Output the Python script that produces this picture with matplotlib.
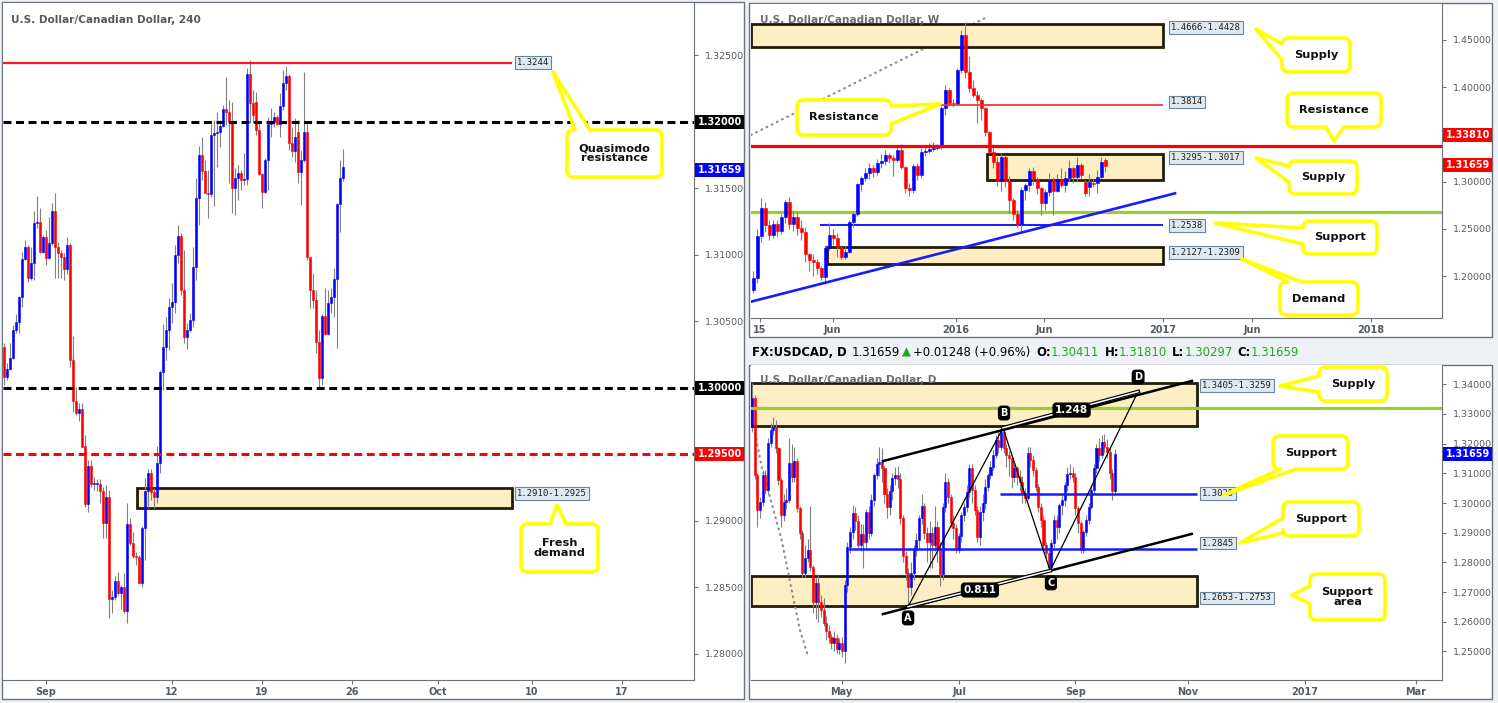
import numpy as np
import matplotlib
matplotlib.use("Agg")
import matplotlib.pyplot as plt
from matplotlib.patches import Rectangle, Polygon

# ---------------- data ----------------
# 4H candles (index 0 = first visible bar)
h4_open = [1.30311, 1.30085, 1.30140, 1.30223, 1.30436, 1.30496, 1.30682, 1.30970, 1.31060, 1.30830,
           1.30937, 1.31243, 1.31251, 1.31025, 1.31135, 1.30975, 1.31093, 1.31331, 1.31063, 1.31013,
           1.30982, 1.30897, 1.31073, 1.30211, 1.29902, 1.29810, 1.29840, 1.29564, 1.29125, 1.29414,
           1.29276, 1.29278, 1.29280, 1.29228, 1.28982, 1.29178, 1.28411, 1.28431, 1.28549, 1.28456,
           1.28506, 1.28326, 1.28977, 1.28832, 1.28737, 1.28727, 1.28536, 1.28945, 1.29226, 1.29358,
           1.29221, 1.29183, 1.29434, 1.30123, 1.30311, 1.30436, 1.30612, 1.30644, 1.31000, 1.31143,
           1.30737, 1.30386, 1.30436, 1.30511, 1.30907, 1.31429, 1.31749, 1.31632, 1.31469, 1.31461,
           1.31902, 1.31915, 1.31927, 1.31970, 1.32095, 1.32075, 1.32003, 1.31501, 1.31576, 1.31619,
           1.31564, 1.31569, 1.32361, 1.32145, 1.32153, 1.31940, 1.31609, 1.31476, 1.31714, 1.31985,
           1.32003, 1.32040, 1.31985, 1.32120, 1.32291, 1.32346, 1.31840, 1.31784, 1.31927, 1.31627,
           1.31714, 1.31927, 1.30987, 1.30737, 1.30662, 1.30348, 1.30073, 1.30541, 1.30404, 1.30637,
           1.30682, 1.30817, 1.31383, 1.31576]
h4_high = [1.30341, 1.30185, 1.30336, 1.30474, 1.30556, 1.30692, 1.31025, 1.31113, 1.31075, 1.31058,
           1.31331, 1.31444, 1.31356, 1.31150, 1.31188, 1.31288, 1.31393, 1.31469, 1.31100, 1.31038,
           1.31013, 1.31138, 1.31088, 1.30393, 1.30010, 1.29885, 1.29885, 1.29647, 1.29459, 1.29459,
           1.29333, 1.29313, 1.29313, 1.29258, 1.29271, 1.29233, 1.28481, 1.28586, 1.28619, 1.28519,
           1.28606, 1.29138, 1.29020, 1.28920, 1.28769, 1.28744, 1.28960, 1.29321, 1.29388, 1.29388,
           1.29246, 1.29564, 1.30135, 1.30481, 1.30536, 1.30674, 1.30787, 1.31075, 1.31226, 1.31168,
           1.31038, 1.30486, 1.30561, 1.31063, 1.31576, 1.31820, 1.31885, 1.31714, 1.31639, 1.31985,
           1.32015, 1.32078, 1.32015, 1.32128, 1.32341, 1.32165, 1.32153, 1.31652, 1.31677, 1.31639,
           1.31764, 1.32404, 1.32466, 1.32241, 1.32228, 1.31990, 1.31614, 1.31727, 1.32040, 1.32103,
           1.32078, 1.32053, 1.32216, 1.32391, 1.32421, 1.32361, 1.31965, 1.32028, 1.32015, 1.31789,
           1.32378, 1.32003, 1.30987, 1.30862, 1.30737, 1.30436, 1.30556, 1.30749, 1.30737, 1.30749,
           1.30900, 1.31389, 1.31714, 1.31797]
h4_low = [1.30023, 1.30060, 1.30135, 1.30216, 1.30416, 1.30416, 1.30612, 1.30962, 1.30794, 1.30812,
          1.30812, 1.31200, 1.31018, 1.31013, 1.30925, 1.30967, 1.31075, 1.30825, 1.30825, 1.30825,
          1.30812, 1.30857, 1.30160, 1.29822, 1.29800, 1.29754, 1.29554, 1.29108, 1.29065, 1.29258,
          1.29233, 1.29228, 1.29133, 1.28870, 1.28870, 1.28268, 1.28306, 1.28406, 1.28444, 1.28336,
          1.28306, 1.28231, 1.28820, 1.28719, 1.28669, 1.28531, 1.28500, 1.28707, 1.29095, 1.29158,
          1.29100, 1.29133, 1.29358, 1.29985, 1.30211, 1.30286, 1.30486, 1.30561, 1.30937, 1.30699,
          1.30336, 1.30291, 1.30420, 1.30461, 1.30812, 1.31226, 1.31564, 1.31464, 1.31276, 1.31439,
          1.31368, 1.31664, 1.31815, 1.31960, 1.31977, 1.31539, 1.31313, 1.31301, 1.31414, 1.31489,
          1.31526, 1.31526, 1.31990, 1.31990, 1.31900, 1.31602, 1.31351, 1.31464, 1.31489, 1.31890,
          1.31964, 1.31977, 1.31890, 1.32090, 1.32241, 1.31789, 1.31739, 1.31702, 1.31539, 1.31376,
          1.31702, 1.30962, 1.30599, 1.30599, 1.30266, 1.30010, 1.30023, 1.30398, 1.30398, 1.30561,
          1.30536, 1.30298, 1.31175, 1.31560]
h4_close = [1.30085, 1.30140, 1.30223, 1.30436, 1.30496, 1.30682, 1.30970, 1.31060, 1.30830, 1.30937,
            1.31243, 1.31251, 1.31025, 1.31135, 1.30975, 1.31093, 1.31331, 1.31063, 1.31013, 1.30982,
            1.30897, 1.31073, 1.30211, 1.29902, 1.29810, 1.29840, 1.29559, 1.29125, 1.29414, 1.29276,
            1.29278, 1.29280, 1.29228, 1.28982, 1.29178, 1.28411, 1.28431, 1.28549, 1.28456, 1.28506,
            1.28326, 1.28977, 1.28832, 1.28737, 1.28727, 1.28536, 1.28945, 1.29226, 1.29358, 1.29221,
            1.29183, 1.29434, 1.30123, 1.30311, 1.30436, 1.30612, 1.30644, 1.31000, 1.31143, 1.30737,
            1.30386, 1.30436, 1.30511, 1.30907, 1.31429, 1.31749, 1.31632, 1.31469, 1.31461, 1.31902,
            1.31915, 1.31927, 1.31970, 1.32095, 1.32075, 1.32003, 1.31501, 1.31576, 1.31619, 1.31564,
            1.31569, 1.32361, 1.32145, 1.32053, 1.31940, 1.31609, 1.31476, 1.31714, 1.31985, 1.32003,
            1.32040, 1.31985, 1.32120, 1.32291, 1.32346, 1.31840, 1.31784, 1.31885, 1.31627, 1.31714,
            1.31927, 1.30987, 1.30737, 1.30662, 1.30348, 1.30073, 1.30541, 1.30404, 1.30637, 1.30682,
            1.30817, 1.31383, 1.31576, 1.31659]
h4_tick_pos = [14, 56, 86, 116, 144.7, 176, 206]
h4_tick_lab = ['Sep', '12', '19', '26', 'Oct', '10', '17']

# weekly candles
wk_open = [1.1855, 1.1978, 1.2429, 1.2725, 1.2542, 1.2440, 1.2549, 1.2480, 1.2630, 1.2782,
           1.2549, 1.2623, 1.2507, 1.2471, 1.2232, 1.2172, 1.2154, 1.2084, 1.1996, 1.2295,
           1.2436, 1.2408, 1.2306, 1.2207, 1.2253, 1.2570, 1.2658, 1.2972, 1.3042, 1.3092,
           1.3141, 1.3099, 1.3197, 1.3222, 1.3282, 1.3254, 1.3226, 1.3331, 1.3159, 1.2937,
           1.2912, 1.3169, 1.3070, 1.3317, 1.3328, 1.3345, 1.3359, 1.3370, 1.3775, 1.3969,
           1.3828, 1.3818, 1.4181, 1.4551, 1.4163, 1.3987, 1.3916, 1.3863, 1.3775, 1.3522,
           1.3317, 1.3211, 1.3007, 1.3264, 1.3011, 1.2806, 1.2655, 1.2549, 1.2912, 1.2965,
           1.3113, 1.3030, 1.2930, 1.2771, 1.2894, 1.3018, 1.2901, 1.3030, 1.2970, 1.3040,
           1.3141, 1.3053, 1.3176, 1.3000, 1.2947, 1.2990, 1.2990, 1.3053, 1.3229]
wk_high = [1.2056, 1.2500, 1.2824, 1.2790, 1.2600, 1.2600, 1.2590, 1.2660, 1.2810, 1.2840,
           1.2700, 1.2690, 1.2590, 1.2520, 1.2250, 1.2240, 1.2180, 1.2110, 1.2330, 1.2560,
           1.2500, 1.2460, 1.2330, 1.2320, 1.2600, 1.2680, 1.2990, 1.3060, 1.3150, 1.3200,
           1.3180, 1.3240, 1.3290, 1.3340, 1.3300, 1.3280, 1.3390, 1.3400, 1.3170, 1.2990,
           1.3190, 1.3200, 1.3360, 1.3370, 1.3410, 1.3420, 1.3400, 1.3800, 1.4020, 1.3990,
           1.3870, 1.4200, 1.4600, 1.4690, 1.4330, 1.4080, 1.3960, 1.3880, 1.3790, 1.3540,
           1.3400, 1.3260, 1.3300, 1.3280, 1.3060, 1.2830, 1.2700, 1.2940, 1.2990, 1.3150,
           1.3160, 1.3050, 1.2940, 1.2920, 1.3090, 1.3050, 1.3080, 1.3140, 1.3110, 1.3230,
           1.3160, 1.3260, 1.3200, 1.3020, 1.3080, 1.3030, 1.3120, 1.3260, 1.3250]
wk_low = [1.1820, 1.1925, 1.2366, 1.2470, 1.2380, 1.2400, 1.2430, 1.2450, 1.2560, 1.2500,
          1.2480, 1.2440, 1.2380, 1.2150, 1.2060, 1.2000, 1.2020, 1.1960, 1.1920, 1.2280,
          1.2330, 1.2200, 1.2180, 1.2180, 1.2250, 1.2520, 1.2640, 1.2900, 1.3010, 1.3030,
          1.3050, 1.3070, 1.3150, 1.3180, 1.3200, 1.3060, 1.3210, 1.3130, 1.2880, 1.2850,
          1.2880, 1.3020, 1.3040, 1.3270, 1.3300, 1.3320, 1.3340, 1.3350, 1.3700, 1.3800,
          1.3790, 1.3810, 1.4150, 1.4100, 1.3950, 1.3900, 1.3620, 1.3650, 1.3480, 1.3300,
          1.3150, 1.2950, 1.2900, 1.2940, 1.2670, 1.2600, 1.2520, 1.2460, 1.2810, 1.2900,
          1.2960, 1.2870, 1.2650, 1.2700, 1.2850, 1.2650, 1.2890, 1.2940, 1.2890, 1.3000,
          1.2990, 1.3010, 1.3040, 1.2850, 1.2850, 1.2940, 1.2880, 1.3040, 1.3100]
wk_close = [1.1978, 1.2429, 1.2725, 1.2542, 1.2440, 1.2549, 1.2480, 1.2630, 1.2782, 1.2549,
            1.2623, 1.2507, 1.2471, 1.2232, 1.2172, 1.2154, 1.2084, 1.1996, 1.2295, 1.2436,
            1.2408, 1.2306, 1.2207, 1.2253, 1.2570, 1.2658, 1.2972, 1.3042, 1.3092, 1.3141,
            1.3099, 1.3197, 1.3222, 1.3282, 1.3254, 1.3226, 1.3331, 1.3159, 1.2937, 1.2912,
            1.3169, 1.3070, 1.3317, 1.3328, 1.3345, 1.3359, 1.3370, 1.3775, 1.3969, 1.3828,
            1.3818, 1.4181, 1.4551, 1.4163, 1.3987, 1.3916, 1.3863, 1.3775, 1.3522, 1.3317,
            1.3211, 1.3007, 1.3264, 1.3011, 1.2806, 1.2655, 1.2549, 1.2912, 1.2965, 1.3113,
            1.3030, 1.2930, 1.2771, 1.2894, 1.3018, 1.2901, 1.3030, 1.2970, 1.3040, 1.3141,
            1.3053, 1.3176, 1.3070, 1.2877, 1.3000, 1.2975, 1.3053, 1.3211, 1.31659]
wk_tick_pos = [1.75, 19.9, 50.75, 72.75, 102.5, 124.75, 154.5]
wk_tick_lab = ['15', 'Jun', '2016', 'Jun', '2017', 'Jun', '2018']

# daily candles
d1_open = [1.3257, 1.3352, 1.3094, 1.2976, 1.3004, 1.3094, 1.3044, 1.3201, 1.3246, 1.3257,
           1.3184, 1.3077, 1.2960, 1.3004, 1.3010, 1.3134, 1.3089, 1.3141, 1.2982, 1.2898,
           1.2763, 1.2814, 1.2842, 1.2786, 1.2668, 1.2730, 1.2668, 1.2640, 1.2595, 1.2570,
           1.2550, 1.2527, 1.2545, 1.2510, 1.2530, 1.2500, 1.2724, 1.2853, 1.2903, 1.2965,
           1.2940, 1.2860, 1.2895, 1.2870, 1.2970, 1.2900, 1.3010, 1.3094, 1.3130, 1.3139,
           1.3117, 1.3030, 1.2985, 1.3040, 1.3085, 1.3094, 1.3080, 1.2950, 1.2820, 1.2763,
           1.2718, 1.2763, 1.2842, 1.2875, 1.2950, 1.2990, 1.2900, 1.2870, 1.2900, 1.2860,
           1.2920, 1.2850, 1.2760, 1.2988, 1.3072, 1.3021, 1.2932, 1.2915, 1.2842, 1.2890,
           1.2960, 1.2985, 1.3038, 1.3117, 1.3044, 1.2976, 1.2887, 1.2971, 1.3000, 1.3055,
           1.3094, 1.3122, 1.3160, 1.3212, 1.3190, 1.3240, 1.3184, 1.3162, 1.3150, 1.3089,
           1.3117, 1.3089, 1.3070, 1.3033, 1.3016, 1.3167, 1.3145, 1.3111, 1.3055, 1.2988,
           1.2943, 1.2859, 1.2831, 1.2786, 1.2864, 1.2943, 1.2920, 1.2993, 1.3010, 1.3060,
           1.3098, 1.3102, 1.3089, 1.2982, 1.2932, 1.2842, 1.2903, 1.2943, 1.2988, 1.3044,
           1.3117, 1.3184, 1.3162, 1.3207, 1.3190, 1.3173, 1.3100, 1.30411]
d1_high = [1.3403, 1.3365, 1.3100, 1.3020, 1.3110, 1.3110, 1.3220, 1.3270, 1.3290, 1.3280,
           1.3190, 1.3085, 1.3030, 1.3050, 1.3220, 1.3200, 1.3190, 1.3150, 1.2990, 1.2910,
           1.2860, 1.2880, 1.2990, 1.2790, 1.2750, 1.2760, 1.2690, 1.2680, 1.2620, 1.2590,
           1.2560, 1.2570, 1.2560, 1.2545, 1.2550, 1.2740, 1.2870, 1.2920, 1.2993, 1.2985,
           1.2960, 1.2930, 1.2930, 1.2980, 1.2990, 1.3030, 1.3100, 1.3150, 1.3190, 1.3184,
           1.3125, 1.3050, 1.3060, 1.3100, 1.3120, 1.3125, 1.3100, 1.2960, 1.2840, 1.2780,
           1.2800, 1.2860, 1.2900, 1.2960, 1.3030, 1.3000, 1.2920, 1.2940, 1.2920, 1.2990,
           1.2940, 1.2870, 1.3000, 1.3100, 1.3085, 1.3030, 1.2960, 1.2930, 1.2900, 1.2970,
           1.3000, 1.3060, 1.3130, 1.3130, 1.3060, 1.2990, 1.2990, 1.3030, 1.3080, 1.3100,
           1.3140, 1.3180, 1.3230, 1.3240, 1.3257, 1.3255, 1.3200, 1.3175, 1.3160, 1.3130,
           1.3125, 1.3110, 1.3090, 1.3050, 1.3190, 1.3190, 1.3160, 1.3120, 1.3065, 1.3000,
           1.2960, 1.2870, 1.2850, 1.2880, 1.2960, 1.2960, 1.3000, 1.3030, 1.3070, 1.3120,
           1.3130, 1.3120, 1.3100, 1.2990, 1.2940, 1.2910, 1.2960, 1.3000, 1.3060, 1.3130,
           1.3200, 1.3220, 1.3230, 1.3233, 1.3215, 1.3190, 1.3115, 1.31810]
d1_low = [1.3240, 1.3080, 1.2920, 1.2950, 1.2990, 1.3030, 1.3030, 1.3190, 1.3230, 1.3170,
          1.3060, 1.2920, 1.2940, 1.2980, 1.3000, 1.3070, 1.3070, 1.2970, 1.2880, 1.2750,
          1.2750, 1.2800, 1.2770, 1.2630, 1.2610, 1.2600, 1.2615, 1.2585, 1.2540, 1.2530,
          1.2510, 1.2500, 1.2495, 1.2490, 1.2480, 1.2462, 1.2700, 1.2830, 1.2880, 1.2910,
          1.2850, 1.2840, 1.2780, 1.2850, 1.2880, 1.2890, 1.2990, 1.3080, 1.3090, 1.3070,
          1.3000, 1.2950, 1.2960, 1.3010, 1.3060, 1.3050, 1.2930, 1.2800, 1.2740, 1.2655,
          1.2690, 1.2740, 1.2820, 1.2850, 1.2930, 1.2880, 1.2800, 1.2780, 1.2780, 1.2840,
          1.2800, 1.2720, 1.2740, 1.2970, 1.3000, 1.2920, 1.2880, 1.2830, 1.2830, 1.2870,
          1.2940, 1.2970, 1.3020, 1.3000, 1.2960, 1.2870, 1.2860, 1.2940, 1.2980, 1.3040,
          1.3080, 1.3110, 1.3150, 1.3170, 1.3180, 1.3170, 1.3120, 1.3090, 1.3050, 1.3070,
          1.3060, 1.3040, 1.3000, 1.3000, 1.3010, 1.3120, 1.3090, 1.3040, 1.2970, 1.2920,
          1.2840, 1.2810, 1.2766, 1.2775, 1.2850, 1.2880, 1.2900, 1.2960, 1.2990, 1.3040,
          1.3080, 1.3070, 1.2960, 1.2900, 1.2830, 1.2830, 1.2890, 1.2930, 1.2980, 1.3030,
          1.3100, 1.3140, 1.3150, 1.3170, 1.3150, 1.3080, 1.3010, 1.30297]
d1_close = [1.3352, 1.3094, 1.2976, 1.3004, 1.3094, 1.3044, 1.3201, 1.3246, 1.3257, 1.3184,
            1.3077, 1.2960, 1.3004, 1.3010, 1.3134, 1.3089, 1.3141, 1.2982, 1.2898, 1.2763,
            1.2814, 1.2842, 1.2786, 1.2668, 1.2730, 1.2668, 1.2640, 1.2595, 1.2570, 1.2550,
            1.2527, 1.2545, 1.2510, 1.2530, 1.2500, 1.2724, 1.2853, 1.2903, 1.2965, 1.2940,
            1.2860, 1.2895, 1.2870, 1.2970, 1.2900, 1.3010, 1.3094, 1.3130, 1.3139, 1.3117,
            1.3030, 1.2985, 1.3040, 1.3085, 1.3094, 1.3080, 1.2950, 1.2820, 1.2763, 1.2718,
            1.2763, 1.2842, 1.2875, 1.2950, 1.2990, 1.2900, 1.2870, 1.2900, 1.2860, 1.2920,
            1.2850, 1.2760, 1.2988, 1.3072, 1.3021, 1.2932, 1.2915, 1.2842, 1.2890, 1.2960,
            1.2985, 1.3038, 1.3117, 1.3044, 1.2976, 1.2887, 1.2971, 1.3000, 1.3055, 1.3094,
            1.3122, 1.3160, 1.3212, 1.3190, 1.3240, 1.3184, 1.3162, 1.3150, 1.3089, 1.3117,
            1.3089, 1.3070, 1.3033, 1.3016, 1.3167, 1.3145, 1.3111, 1.3055, 1.2988, 1.2943,
            1.2859, 1.2831, 1.2786, 1.2864, 1.2943, 1.2920, 1.2993, 1.3010, 1.3060, 1.3098,
            1.3102, 1.3089, 1.2982, 1.2932, 1.2842, 1.2903, 1.2943, 1.2988, 1.3044, 1.3117,
            1.3184, 1.3162, 1.3207, 1.3190, 1.3173, 1.3100, 1.3041, 1.31659]
d1_tick_pos = [33.8, 78.3, 122, 164.6, 208.5, 250.6]
d1_tick_lab = ['May', 'Jul', 'Sep', 'Nov', '2017', 'Mar']

# ---------------- styling ----------------
W, H = 1498, 703
BG = '#eef1f5'
UP, DOWN, WICK = '#0000ff', '#ff0000', '#808080'
ZONE_FILL, ZONE_EDGE = '#fdeec4', '#231d08'
EDGE = '#6d737b'
CALLOUT = '#ffff00'

fig = plt.figure(figsize=(W / 100, H / 100), dpi=100, facecolor=BG)


def fx(x):
    return x / W


def fy(y):
    return 1 - y / H


def frame(x0, y0, x1, y1):
    fig.add_artist(Rectangle((fx(x0), fy(y1)), (x1 - x0) / W, (y1 - y0) / H,
                             transform=fig.transFigure, facecolor='white',
                             edgecolor=EDGE, lw=1, zorder=-1))


def make_axes(box, xlim, ylim, yticks, xticks, xlabels):
    x0, y0, x1, y1 = box
    ax = fig.add_axes([fx(x0), fy(y1), (x1 - x0) / W, (y1 - y0) / H])
    ax.set_xlim(*xlim)
    ax.set_ylim(*ylim)
    ax.spines['left'].set_visible(False)
    ax.spines['top'].set_visible(False)
    ax.spines['right'].set_color(EDGE)
    ax.spines['bottom'].set_color(EDGE)
    ax.yaxis.tick_right()
    ax.set_yticks(yticks)
    ax.set_yticklabels([f'{v:.5f}' for v in yticks])
    ax.set_xticks(xticks)
    ax.set_xticklabels(xlabels)
    ax.tick_params(axis='y', length=3, width=0.8, color=EDGE, labelcolor='#555b63',
                   labelsize=6.8, pad=5)
    ax.tick_params(axis='x', length=3, width=0.8, color=EDGE, labelcolor='#555b63',
                   labelsize=7, pad=2)
    for t in ax.get_xticklabels():
        t.set_fontweight('bold')
    return ax


def candles(ax, o, h, l, c, width, min_h, start=0):
    o, h, l, c = map(np.asarray, (o, h, l, c))
    x = np.arange(len(o)) + start
    col = np.where(c >= o, UP, DOWN)
    ax.vlines(x, l, h, color=WICK, lw=0.8, zorder=2)
    ax.bar(x, np.maximum(np.abs(c - o), min_h), width=width, bottom=np.minimum(o, c),
           color=col, edgecolor=col, lw=0.4, zorder=3)


def zone(ax, x0, x1, lo, hi):
    ax.add_patch(Rectangle((x0, lo), x1 - x0, hi - lo, facecolor=ZONE_FILL,
                           edgecolor=ZONE_EDGE, lw=2, zorder=1))


def tag(x, y, s):
    fig.text(fx(x + 3), fy(y), s, fontsize=6.4, family='DejaVu Sans Mono', color='#1e1e1e',
             va='center', ha='left', zorder=8,
             bbox=dict(boxstyle='square,pad=0.2', fc='#e1e9f0', ec='#6b8499', lw=0.8))


def scale_label(x0, y, s, bg):
    fig.add_artist(Rectangle((fx(x0), fy(y + 7)), 49 / W, 14 / H, transform=fig.transFigure,
                             facecolor=bg, edgecolor='none', zorder=8))
    fig.text(fx(x0 + 25), fy(y), s, color='white', weight='bold', fontsize=7,
             ha='center', va='center', zorder=9)


def callout(box, ptr, text, fs=8.2):
    x0, y0, x1, y1 = box
    side, a, b, tx, ty = ptr
    r = 6
    pts = []

    def arc(cx, cy, a0, a1):
        for t in np.linspace(a0, a1, 6):
            pts.append((cx + r * np.cos(t), cy + r * np.sin(t)))

    arc(x0 + r, y0 + r, np.pi, 1.5 * np.pi)
    if side == 'top':
        pts.extend([(a, y0), (tx, ty), (b, y0)])
    arc(x1 - r, y0 + r, 1.5 * np.pi, 2 * np.pi)
    if side == 'right':
        pts.extend([(x1, a), (tx, ty), (x1, b)])
    arc(x1 - r, y1 - r, 0, 0.5 * np.pi)
    if side == 'bottom':
        pts.extend([(b, y1), (tx, ty), (a, y1)])
    arc(x0 + r, y1 - r, 0.5 * np.pi, np.pi)
    if side == 'left':
        pts.extend([(x0, b), (tx, ty), (x0, a)])
    fig.add_artist(Polygon([(fx(px), fy(py)) for px, py in pts], closed=True,
                           transform=fig.transFigure, facecolor='white', edgecolor=CALLOUT,
                           lw=2.6, joinstyle='round', zorder=10))
    fig.text(fx((x0 + x1) / 2), fy((y0 + y1) / 2), text, ha='center', va='center',
             fontsize=fs, weight='bold', color='#111111', linespacing=0.95, zorder=11)


def badge(ax, x, y, s, fs=7):
    ax.text(x, y, s, color='white', weight='bold', fontsize=fs, ha='center', va='center',
            zorder=9, bbox=dict(boxstyle='round,pad=0.18,rounding_size=0.3', fc='black', ec='black'))


# ---------------- panel frames ----------------
frame(2, 2, 744, 699)
frame(749, 3, 1492, 337)
frame(749, 365, 1492, 699)

# ---------------- 4H panel ----------------
ax4 = make_axes((3, 3, 694, 680), (-0.333, 230), (1.278045, 1.328947),
                [1.280, 1.285, 1.290, 1.305, 1.310, 1.315, 1.325],
                h4_tick_pos, h4_tick_lab)
zone(ax4, 44.3, 169.3, 1.2910, 1.2925)
candles(ax4, h4_open, h4_high, h4_low, h4_close, 0.9, 0.00008)
ax4.hlines(1.3244, -0.333, 169.3, color='#ff1a1a', lw=1.6, zorder=4)
ax4.axhline(1.3200, color='black', lw=2.2, ls=(0, (2.6, 1.5)), zorder=4)
ax4.axhline(1.3000, color='black', lw=2.2, ls=(0, (2.6, 1.5)), zorder=4)
ax4.axhline(1.2950, color='#ff0000', lw=2.2, ls=(0, (2.6, 1.5)), zorder=4)
fig.text(fx(11), fy(20), 'U.S. Dollar/Canadian Dollar, 240', fontsize=7.6, weight='bold',
         color='#55595f', va='center', ha='left', zorder=6)
tag(514, 62.5, '1.3244')
tag(514, 493.5, '1.2910-1.2925')
scale_label(695, 122, '1.32000', 'black')
scale_label(695, 170, '1.31659', '#0000ff')
scale_label(695, 388, '1.30000', 'black')
scale_label(695, 454, '1.29500', '#ff0000')
callout((567, 130, 662, 177), ('top', 575, 590, 553, 72), 'Quasimodo\nresistance')
callout((521, 524, 598, 572), ('top', 550, 566, 557, 505), 'Fresh\ndemand')

# ---------------- weekly panel ----------------
axw = make_axes((751, 4, 1442, 318), (-0.5, 172.25), (1.15592, 1.48784),
                [1.20, 1.25, 1.30, 1.40, 1.45], wk_tick_pos, wk_tick_lab)
fig.text(fx(760), fy(20), 'U.S. Dollar/Canadian Dollar, W', fontsize=7.6, weight='bold',
         color='#6a6e74', va='center', ha='left', zorder=1)
axw.plot([-0.5, 58], [1.3494, 1.4730], color='#8f8f8f', lw=1.6,
         ls=(0, (0.4, 2.2)), dash_capstyle='round', zorder=1)
zone(axw, -0.5, 102.5, 1.4428, 1.4666)
zone(axw, 58.5, 102.5, 1.3017, 1.3295)
zone(axw, 18.5, 102.5, 1.2127, 1.2309)
axw.axhline(1.2676, color='#9acd32', lw=2.3, zorder=2)
axw.hlines(1.2538, 16.75, 102.5, color='#1a1aff', lw=1.4, zorder=2)
candles(axw, wk_open, wk_high, wk_low, wk_close, 0.75, 0.0011)
axw.axhline(1.3381, color='#ff0000', lw=2.3, zorder=5)
axw.hlines(1.3814, 46.75, 102.5, color='#ff3333', lw=1.3, zorder=5)
axw.plot([-0.56, 105.5], [1.1731, 1.2877], color='#1a1aff', lw=1.9, zorder=5)
tag(1168, 27.5, '1.4666-1.4428')
tag(1168, 102, '1.3814')
tag(1168, 157.5, '1.3295-1.3017')
tag(1168, 225.5, '1.2538')
tag(1168, 252.5, '1.2127-1.2309')
scale_label(1443, 134.5, '1.33810', '#ff0000')
scale_label(1443, 165, '1.31659', '#ff0000')
callout((797, 100, 891, 135), ('right', 106, 124, 940, 104), 'Resistance')
callout((1282, 38, 1350, 72), ('left', 44, 60, 1256, 29), 'Supply')
callout((1287, 93, 1381, 127), ('bottom', 1326, 1344, 1334, 141), 'Resistance')
callout((1289, 161, 1357, 194), ('left', 166, 182, 1256, 158), 'Supply')
callout((1303, 221, 1377, 254), ('left', 228, 244, 1215, 223), 'Support')
callout((1280, 282, 1358, 315), ('top', 1288, 1302, 1242, 259), 'Demand')

# ---------------- daily panel ----------------
axd = make_axes((751, 365, 1442, 680), (-0.377, 260.38), (1.240404, 1.346465),
                [1.25, 1.26, 1.27, 1.28, 1.29, 1.30, 1.31, 1.32, 1.33, 1.34],
                d1_tick_pos, d1_tick_lab)
fig.text(fx(760), fy(380), 'U.S. Dollar/Canadian Dollar, D', fontsize=7.6, weight='bold',
         color='#6a6e74', va='center', ha='left', zorder=1)
zone(axd, -0.4, 167.9, 1.3259, 1.3405)
zone(axd, -0.4, 167.9, 1.2653, 1.2753)
curve_d = [1.13, 3.66, 7.4, 11.2, 14.98, 18.1, 21.2]
curve_p = [1.3235, 1.3122, 1.2999, 1.2875, 1.2707, 1.2572, 1.2483]
axd.plot(curve_d, curve_p, color='#8f8f8f', lw=1.6, ls=(0, (0.4, 2.2)),
         dash_capstyle='round', zorder=2)
candles(axd, d1_open, d1_high, d1_low, d1_close, 0.78, 0.00035)
axd.axhline(1.3319, color='#9acd32', lw=2.3, zorder=5)
axd.hlines(1.3029, 93.6, 167.9, color='#1a1aff', lw=1.8, zorder=5)
axd.hlines(1.2845, 36.2, 167.9, color='#1a1aff', lw=1.8, zorder=5)
axd.plot([49.4, 166], [1.3141, 1.3411], color='black', lw=1.8, zorder=6)
axd.plot([49.4, 166], [1.2626, 1.2896], color='black', lw=1.8, zorder=6)
pat_d = [58.9, 94.7, 112.5, 145.7]
pat_p = [1.2651, 1.3253, 1.2772, 1.3375]
axd.plot(pat_d, pat_p, color='black', lw=0.9, zorder=6)
for i, j in ((0, 2), (1, 3)):
    axd.plot([pat_d[i], pat_d[j]], [pat_p[i], pat_p[j]], color='black', lw=2.8, zorder=6)
    axd.plot([pat_d[i], pat_d[j]], [pat_p[i], pat_p[j]], color='white', lw=1.1, zorder=6)
badge(axd, 86, 1.2707, '0.811', 7.5)
badge(axd, 120.6, 1.3313, '1.248', 7.5)
for s, xd, yp in (('A', 58.9, 1.2613), ('B', 95.1, 1.3303), ('C', 112.8, 1.2731), ('D', 145.7, 1.3424)):
    badge(axd, xd, yp, s)
tag(1199, 385.5, '1.3405-1.3259')
tag(1199, 493.5, '1.3029')
tag(1199, 543, '1.2845')
tag(1199, 598, '1.2653-1.2753')
scale_label(1443, 454, '1.31659', '#0000ff')
callout((1319, 367, 1387, 401), ('left', 376, 392, 1280, 386), 'Supply')
callout((1273, 436, 1348, 469), ('bottom', 1280, 1296, 1224, 495), 'Support')
callout((1283, 502, 1359, 536), ('left', 518, 533, 1240, 543), 'Support')
callout((1310, 574, 1385, 620), ('left', 586, 604, 1292, 595), 'Support\narea')

# header line above the daily chart
GREEN = '#1fa81f'
header = [('FX:USDCAD, D', 'black', 'bold', 5), ('1.31659', 'black', 'normal', 2),
          ('\u25B2', GREEN, 'normal', 2), ('+0.01248 (+0.96%)', 'black', 'normal', 6),
          ('O:', 'black', 'bold', 0), ('1.30411', GREEN, 'normal', 5),
          ('H:', 'black', 'bold', 0), ('1.31810', GREEN, 'normal', 5),
          ('L:', 'black', 'bold', 0), ('1.30297', GREEN, 'normal', 5),
          ('C:', 'black', 'bold', 0), ('1.31659', GREEN, 'normal', 0)]
renderer = fig.canvas.get_renderer()
xh = 752
for s, col, wt, gap in header:
    t = fig.text(fx(xh), fy(356), s, color=col, weight=wt, fontsize=8.4, va='baseline', ha='left')
    xh = t.get_window_extent(renderer).x1 + gap

fig.savefig('out.png', dpi=100, facecolor=BG)
